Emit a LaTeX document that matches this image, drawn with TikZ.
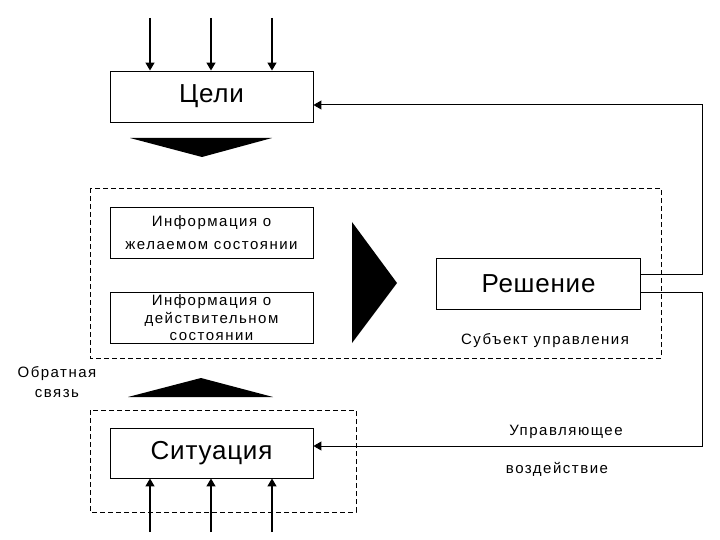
\documentclass[tikz,border=0pt]{standalone}
\usepackage{fontspec}
\setmainfont{Liberation Sans}
\newfontfamily\smallf[LetterSpace=10]{Liberation Sans}
\newfontfamily\bigf[LetterSpace=3]{Liberation Sans}
\usetikzlibrary{arrows.meta}
\tikzset{
  box/.style={draw, line width=0.9pt, minimum width=203pt, minimum height=51pt, inner sep=0pt, align=center},
  bigtxt/.style={font=\bigf\fontsize{26}{28}\selectfont},
  smalltxt/.style={font=\smallf\fontsize{15}{18}\selectfont, align=center, inner sep=0pt},
  arr/.style={line width=1.4pt, -{Triangle[length=8pt,width=9pt]}},
  conn/.style={line width=1pt, -{Triangle[length=8pt,width=9pt]}},
  dashbox/.style={draw, line width=0.9pt, dash pattern=on 5pt off 3pt},
}
\begin{document}
\begin{tikzpicture}[x=1pt,y=-1pt]
\useasboundingbox (0,0) rectangle (720,540);
% dashed frames
\draw[dashbox] (90,188) rectangle (661,358);
\draw[dashbox] (90,410) rectangle (356,512);
% boxes
\node[box, bigtxt] (celi) at (211.5,96.5) {Цели};
\node[box, smalltxt, minimum width=203pt, minimum height=51pt, draw, line width=0.9pt] (info1) at (211.5,232.5) {Информация о\\[5pt]желаемом состоянии};
\node[box, smalltxt, minimum width=203pt, minimum height=51pt, draw, line width=0.9pt] (info2) at (211.5,318) {Информация о\\[0pt]действительном\\[-1pt]состоянии};
\node[box, bigtxt, minimum width=204pt] (res) at (538.5,283.5) {Решение};
\node[box, bigtxt, minimum height=50pt] (sit) at (211.5,453) {Ситуация};
% big black arrows
\fill (130,138) -- (272,138) -- (202,157) -- cycle;
\fill (352,222) -- (397,283) -- (352,343) -- cycle;
\fill (128,397) -- (273,397) -- (201,378) -- cycle;
% input arrows
\foreach \i/\x in {1/150,2/211,3/272}{
  \coordinate (t\i) at (\x,18);
  \draw[arr] (t\i) -- (t\i |- celi.north);
  \coordinate (b\i) at (\x,532);
  \draw[arr] (b\i) -- (b\i |- sit.south);
}
% feedback connectors
\coordinate (ra) at (702,274);
\coordinate (rb) at (702,105);
\draw[conn] (res.east |- ra) -- (ra) -- (rb) -- (celi.east |- rb);
\coordinate (rc) at (702,292);
\coordinate (rd) at (702,446);
\draw[conn] (res.east |- rc) -- (rc) -- (rd) -- (sit.east |- rd);
% labels
\node[smalltxt] (subj) at (545,341) {Субъект управления};
\node[smalltxt] (obr) at (57,382) {Обратная\\[2pt]связь};
\node[smalltxt] (upr1) at (566,432) {Управляющее};
\node[smalltxt] (upr2) at (557,469) {воздействие};
\end{tikzpicture}
\end{document}
